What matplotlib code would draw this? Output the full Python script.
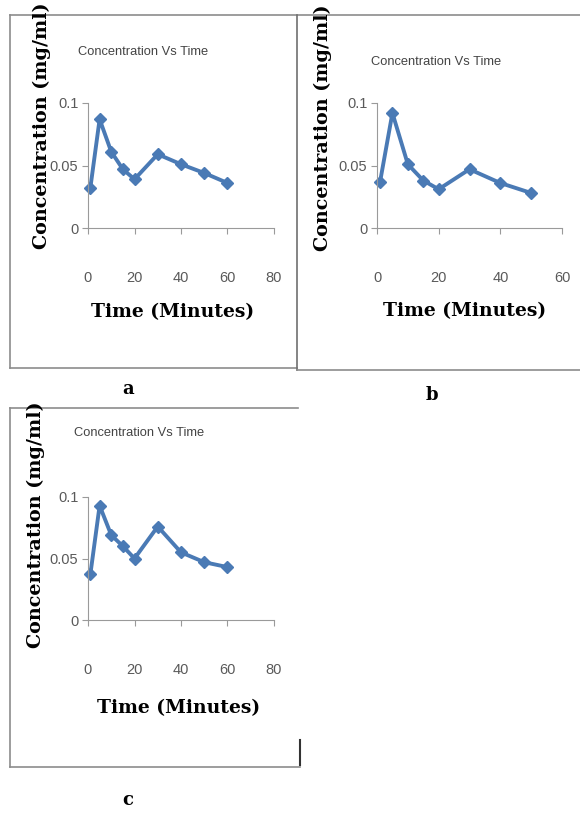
import matplotlib
matplotlib.use("Agg")
import matplotlib.pyplot as plt
from matplotlib.lines import Line2D

# sampling times (minutes) and measured concentration (mg/ml)
time_a = [1, 5, 10, 15, 20, 30, 40, 50, 60]
conc_a = [0.032, 0.087, 0.061, 0.047, 0.039, 0.059, 0.051, 0.044, 0.036]

time_b = [1, 5, 10, 15, 20, 30, 40, 50]
conc_b = [0.037, 0.092, 0.051, 0.038, 0.031, 0.047, 0.036, 0.028]

time_c = [1, 5, 10, 15, 20, 30, 40, 50, 60]
conc_c = [0.037, 0.093, 0.069, 0.060, 0.050, 0.076, 0.055, 0.047, 0.043]

y_ticks = [0, 0.05, 0.1]
y_ticklabels = ["0", "0.05", "0.1"]
title_txt = "Concentration Vs Time"
xlabel_txt = "Time (Minutes)"
ylabel_txt = "Concentration (mg/ml)"

W, H = 580, 816
fig = plt.figure(figsize=(W / 100, H / 100), dpi=100)
fig.patch.set_facecolor("white")

line_col = "#4a7ab5"
grey = "#5a5a5a"
sans = ["Liberation Sans", "DejaVu Sans"]
serif = "DejaVu Serif"


def fx(px):
    return px / W


def fy(py):
    return 1 - py / H


def hline(x0, x1, y, c="#8c8c8c", lw=1.2):
    fig.add_artist(Line2D([fx(x0), fx(x1)], [fy(y), fy(y)], color=c, lw=lw))


def vline(x, y0, y1, c="#8c8c8c", lw=1.2):
    fig.add_artist(Line2D([fx(x), fx(x)], [fy(y0), fy(y1)], color=c, lw=lw))


def panel(left, right, top, bottom, t, c, xmax, xticks):
    ax = fig.add_axes([fx(left), fy(bottom), fx(right - left), (bottom - top) / H])
    ax.plot(t, c, color=line_col, lw=2.8, marker="D", ms=6.5,
            mec=line_col, mfc=line_col, clip_on=False)
    ax.set_xlim(0, xmax)
    ax.set_ylim(0, 0.1)
    ax.set_xticks(xticks)
    ax.set_xticklabels([str(v) for v in xticks], family=sans, fontsize=10.5, color=grey)
    ax.set_yticks(y_ticks)
    ax.set_yticklabels(y_ticklabels, family=sans, fontsize=10.5, color=grey)
    ax.tick_params(axis="x", direction="out", length=4, width=0.8, color="#9a9a9a", pad=27)
    ax.tick_params(axis="y", direction="out", length=4, width=0.8, color="#9a9a9a", pad=3)
    for s in ["top", "right"]:
        ax.spines[s].set_visible(False)
    for s in ["left", "bottom"]:
        ax.spines[s].set_color("#9a9a9a")
        ax.spines[s].set_linewidth(0.8)
    ax.patch.set_alpha(0)
    return ax


def labels(tx, ty, yx, yy, xx, xy, tag, tagx, tagy):
    fig.text(fx(tx), fy(ty), title_txt, family=sans, fontsize=9.3, color="#444444",
             ha="center", va="center")
    fig.text(fx(yx), fy(yy), ylabel_txt, family=serif, weight="bold",
             fontsize=13.8, rotation=90, ha="center", va="center")
    fig.text(fx(xx), fy(xy), xlabel_txt, family=serif, weight="bold",
             fontsize=13.5, ha="center", va="center")
    fig.text(fx(tagx), fy(tagy), tag, family=serif, weight="bold",
             fontsize=13, ha="center", va="center")


# panel a
panel(88, 274, 103, 228, time_a, conc_a, 80, [0, 20, 40, 60, 80])
labels(143, 52, 42, 126, 173, 312, "a", 128, 389)

# panel b
panel(377, 562, 103, 228, time_b, conc_b, 60, [0, 20, 40, 60])
labels(436, 62, 323, 128, 465, 311, "b", 432, 395)

# panel c
panel(88, 274, 497, 620, time_c, conc_c, 80, [0, 20, 40, 60, 80])
labels(139, 433, 36, 525, 179, 708, "c", 128, 800)

# frames around the panels
hline(10, 580, 15)
vline(10, 15, 368)
hline(10, 297, 368)
vline(297, 15, 370, c="#707070")
hline(297, 580, 370)
hline(10, 298, 408)
vline(10, 408, 767)
hline(10, 300, 767)
vline(300, 740, 765, c="#333333", lw=1.5)

fig.savefig("out.png", dpi=100, facecolor="white")
